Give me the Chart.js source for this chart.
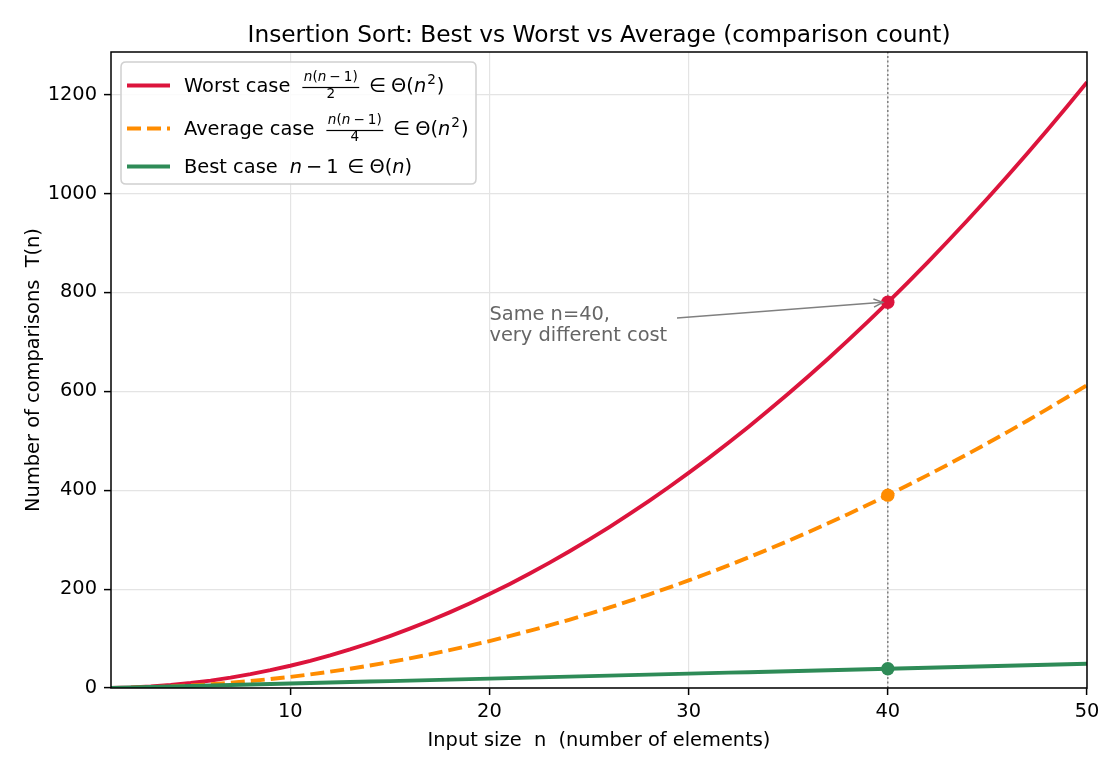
<!DOCTYPE html>
<html><head><meta charset="utf-8">
<script src="https://cdn.jsdelivr.net/npm/chart.js@4.4.1/dist/chart.umd.min.js"></script>
<style>html,body{margin:0;padding:0;background:#fff;}#wrap{width:1120px;height:770px;}</style>
</head><body><div id="wrap"><canvas id="c" width="1120" height="770"></canvas></div>
<script>
// ---- data ----
const nValues = [1,2,3,4,5,6,7,8,9,10,11,12,13,14,15,16,17,18,19,20,21,22,23,24,25,26,27,28,29,30,31,32,33,34,35,36,37,38,39,40,41,42,43,44,45,46,47,48,49,50];
const worstCase = [0,1,3,6,10,15,21,28,36,45,55,66,78,91,105,120,136,153,171,190,210,231,253,276,300,325,351,378,406,435,465,496,528,561,595,630,666,703,741,780,820,861,903,946,990,1035,1081,1128,1176,1225];
const averageCase = [0,0.5,1.5,3,5,7.5,10.5,14,18,22.5,27.5,33,39,45.5,52.5,60,68,76.5,85.5,95,105,115.5,126.5,138,150,162.5,175.5,189,203,217.5,232.5,248,264,280.5,297.5,315,333,351.5,370.5,390,410,430.5,451.5,473,495,517.5,540.5,564,588,612.5];
const bestCase = [0,1,2,3,4,5,6,7,8,9,10,11,12,13,14,15,16,17,18,19,20,21,22,23,24,25,26,27,28,29,30,31,32,33,34,35,36,37,38,39,40,41,42,43,44,45,46,47,48,49];
const xTicks = [10,20,30,40,50];
const yTicks = [0,200,400,600,800,1000,1200];
const highlightN = 40;
const titleText = 'Insertion Sort: Best vs Worst vs Average (comparison count)';
const xLabel = 'Input size  n  (number of elements)';
const yLabel = 'Number of comparisons  T(n)';
const noteLines = ['Same n=40,', 'very different cost'];
const noteN = 20;

const C_WORST = '#DC143C', C_AVG = '#FF8C00', C_BEST = '#2E8B57';
const FF = '"DejaVu Sans", sans-serif';
const FS = 19.4;
const LW = 3.9;

const pts = arr => nValues.map((n, i) => ({x: n, y: arr[i]}));
const hi = nValues.indexOf(highlightN);
const one = arr => [{x: nValues[hi], y: arr[hi]}];

function seg(ctx, x, y, text, font, color) {
  ctx.font = font; ctx.fillStyle = color || '#000';
  ctx.fillText(text, x, y);
  return x + ctx.measureText(text).width;
}
function frac(ctx, x, base, den) {
  const f = 'italic 13.6px ' + FF, fu = '13.6px ' + FF;
  ctx.font = f; const wn1 = ctx.measureText('n').width;
  ctx.font = fu; const wp = ctx.measureText('(').width, w1 = ctx.measureText('1').width, wm = ctx.measureText('\u2212').width, wcp = ctx.measureText(')').width;
  const sp = 3;
  const numW = wn1 + wp + wn1 + sp + wm + sp + w1 + wcp;
  ctx.font = fu; const denW = ctx.measureText(den).width;
  const W = Math.max(numW, denW) + 3;
  const barY = base - 4.5;
  ctx.fillStyle = '#000';
  ctx.fillRect(x, barY - 0.6, W, 1.2);
  let nx = x + (W - numW) / 2, ny = barY - 6.5;
  nx = seg(ctx, nx, ny, 'n', f);
  nx = seg(ctx, nx, ny, '(', fu);
  nx = seg(ctx, nx, ny, 'n', f);
  nx += sp; nx = seg(ctx, nx, ny, '\u2212', fu); nx += sp;
  nx = seg(ctx, nx, ny, '1', fu);
  nx = seg(ctx, nx, ny, ')', fu);
  seg(ctx, x + (W - denW) / 2, barY + 10.5, den, fu);
  return x + W;
}
function theta(ctx, x, base, sq) {
  const fu = FS + 'px ' + FF, fi = 'italic ' + FS + 'px ' + FF;
  x = seg(ctx, x, base, '\u2208', fu); x += 5;
  x = seg(ctx, x, base, '\u0398(', fu);
  x = seg(ctx, x, base, 'n', fi);
  if (sq) { x += 1; x = seg(ctx, x, base - 8, '2', '13.6px ' + FF); x += 1; }
  x = seg(ctx, x, base, ')', fu);
  return x;
}

const deco = {
  id: 'deco',
  beforeDatasetsDraw(chart) {
    const {ctx, chartArea: a, scales: {x}} = chart;
    const px = x.getPixelForValue(highlightN);
    ctx.save();
    ctx.strokeStyle = '#777'; ctx.lineWidth = 1.4; ctx.setLineDash([2, 2.5]);
    ctx.beginPath(); ctx.moveTo(px, a.bottom); ctx.lineTo(px, a.top); ctx.stroke();
    ctx.restore();
  },
  afterDraw(chart) {
    const {ctx, chartArea: a, scales: {x, y}} = chart;
    ctx.save();
    ctx.strokeStyle = '#000'; ctx.lineWidth = 1.5;
    ctx.strokeRect(a.left, a.top, a.right - a.left, a.bottom - a.top);
    ctx.fillStyle = '#000'; ctx.textAlign = 'center'; ctx.textBaseline = 'alphabetic';
    ctx.font = '23.3px ' + FF;
    ctx.fillText(titleText, (a.left + a.right) / 2, 41.5);
    ctx.font = FS + 'px ' + FF;
    ctx.fillText(xLabel, (a.left + a.right) / 2, 745.5);
    ctx.save(); ctx.translate(38.5, (a.top + a.bottom) / 2); ctx.rotate(-Math.PI / 2);
    ctx.fillText(yLabel, 0, 0); ctx.restore();

    // annotation
    const tx = x.getPixelForValue(noteN);
    ctx.textAlign = 'left'; ctx.fillStyle = '#666666'; ctx.font = FS + 'px ' + FF;
    ctx.fillText(noteLines[0], tx, 319.5);
    ctx.fillText(noteLines[1], tx, 341);
    const ex = x.getPixelForValue(highlightN) - 5, ey = y.getPixelForValue(worstCase[hi]);
    const sx = 677, sy = 318;
    ctx.strokeStyle = '#808080'; ctx.lineWidth = 1.5;
    ctx.beginPath(); ctx.moveTo(sx, sy); ctx.lineTo(ex, ey); ctx.stroke();
    const ang = Math.atan2(ey - sy, ex - sx), L = 10, spr = 0.42;
    ctx.beginPath();
    ctx.moveTo(ex - L * Math.cos(ang - spr), ey - L * Math.sin(ang - spr));
    ctx.lineTo(ex, ey);
    ctx.lineTo(ex - L * Math.cos(ang + spr), ey - L * Math.sin(ang + spr));
    ctx.stroke();

    // legend
    const lx = 121, ly = 62, lw = 355, lh = 122, r = 5;
    ctx.beginPath();
    ctx.moveTo(lx + r, ly); ctx.lineTo(lx + lw - r, ly); ctx.quadraticCurveTo(lx + lw, ly, lx + lw, ly + r);
    ctx.lineTo(lx + lw, ly + lh - r); ctx.quadraticCurveTo(lx + lw, ly + lh, lx + lw - r, ly + lh);
    ctx.lineTo(lx + r, ly + lh); ctx.quadraticCurveTo(lx, ly + lh, lx, ly + lh - r);
    ctx.lineTo(lx, ly + r); ctx.quadraticCurveTo(lx, ly, lx + r, ly); ctx.closePath();
    ctx.fillStyle = 'rgba(255,255,255,0.85)'; ctx.fill();
    ctx.strokeStyle = '#d0d0d0'; ctx.lineWidth = 1.5; ctx.stroke();

    const rows = [
      {color: C_WORST, dash: [], base: 92, label: 'Worst case', den: '2'},
      {color: C_AVG, dash: [14, 6], base: 135, label: 'Average case', den: '4'},
      {color: C_BEST, dash: [], base: 173, label: 'Best case', den: null}
    ];
    ctx.textAlign = 'left';
    rows.forEach(rw => {
      ctx.strokeStyle = rw.color; ctx.lineWidth = LW; ctx.setLineDash(rw.dash); ctx.lineCap = 'butt';
      ctx.beginPath(); ctx.moveTo(127, rw.base - 6.5); ctx.lineTo(170, rw.base - 6.5); ctx.stroke();
      ctx.setLineDash([]);
      let cx = seg(ctx, 184, rw.base, rw.label, FS + 'px ' + FF);
      if (rw.den) {
        cx += 12;
        cx = frac(ctx, cx, rw.base, rw.den);
        cx += 10;
        theta(ctx, cx, rw.base, true);
      } else {
        cx += 12;
        const fi = 'italic ' + FS + 'px ' + FF, fu = FS + 'px ' + FF;
        cx = seg(ctx, cx, rw.base, 'n', fi); cx += 4;
        cx = seg(ctx, cx, rw.base, '\u2212', fu); cx += 4;
        cx = seg(ctx, cx, rw.base, '1', fu); cx += 9;
        theta(ctx, cx, rw.base, false);
      }
    });
    ctx.restore();
  }
};

const tickFont = {family: 'DejaVu Sans', size: FS};
const gridOpts = {color: '#e4e4e4', lineWidth: 1.2, tickLength: 7, tickColor: '#000', tickWidth: 1.5};
new Chart(document.getElementById('c'), {
  type: 'line',
  data: {
    datasets: [
      {label: 'worst-pt', data: one(worstCase), showLine: false, pointRadius: 6.7, pointHoverRadius: 6.7, pointBackgroundColor: C_WORST, pointBorderWidth: 0, order: 0},
      {label: 'avg-pt', data: one(averageCase), showLine: false, pointRadius: 6.7, pointHoverRadius: 6.7, pointBackgroundColor: C_AVG, pointBorderWidth: 0, order: 0},
      {label: 'best-pt', data: one(bestCase), showLine: false, pointRadius: 6.7, pointHoverRadius: 6.7, pointBackgroundColor: C_BEST, pointBorderWidth: 0, order: 0},
      {label: 'Best case', data: pts(bestCase), borderColor: C_BEST, borderWidth: LW, pointRadius: 0, fill: false, order: 1},
      {label: 'Average case', data: pts(averageCase), borderColor: C_AVG, borderWidth: LW, borderDash: [14, 6], pointRadius: 0, fill: false, order: 2},
      {label: 'Worst case', data: pts(worstCase), borderColor: C_WORST, borderWidth: LW, pointRadius: 0, fill: false, order: 3}
    ]
  },
  options: {
    responsive: false, animation: false, devicePixelRatio: 1,
    layout: {padding: {top: 52, right: 33, left: 0, bottom: 0}},
    plugins: {legend: {display: false}, tooltip: {enabled: false}, title: {display: false}},
    scales: {
      x: {
        type: 'linear', min: 1, max: 50,
        afterBuildTicks: s => { s.ticks = xTicks.map(v => ({value: v})); },
        afterFit: s => { s.height = 82; },
        ticks: {font: tickFont, color: '#000', padding: 5, autoSkip: false, maxRotation: 0, callback: v => String(v)},
        grid: gridOpts,
        border: {display: false}
      },
      y: {
        type: 'linear', min: 0, max: 1286.25,
        afterBuildTicks: s => { s.ticks = yTicks.map(v => ({value: v})); },
        afterFit: s => { s.width = 111; },
        ticks: {font: tickFont, color: '#000', padding: 7, autoSkip: false, callback: v => String(v)},
        grid: gridOpts,
        border: {display: false}
      }
    }
  },
  plugins: [deco]
});
</script></body></html>
